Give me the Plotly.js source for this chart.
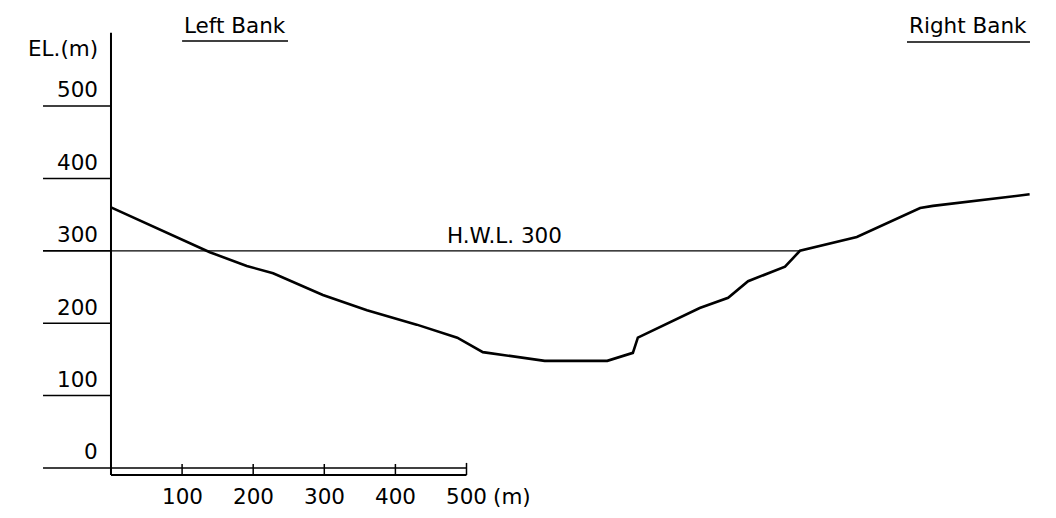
<!DOCTYPE html>
<html>
<head>
<meta charset="utf-8">
<script src="https://cdn.plot.ly/plotly-3.0.1.min.js"></script>
<style>
html,body{margin:0;padding:0;background:#fff;}
#chart{width:1056px;height:518px;}
</style>
</head>
<body>
<div id="chart"></div>
<script>
// Cross-section profile: distance (m) and elevation (m)
const distance  = [0, 93, 139, 191, 228, 298, 360, 430, 487, 523, 610, 698, 734, 741, 828, 868, 896, 948, 969, 1049, 1138, 1156, 1292];
const elevation = [360, 318, 298, 279, 269, 239, 218, 198, 180, 160, 148, 148, 159, 180, 221, 235, 258, 278, 300, 319, 359, 362, 378];

const hwl = 300;                       // high water level (m)
const hwlLabel = 'H.W.L. 300';
const yTicks = [0, 100, 200, 300, 400, 500];
const yTickLabels = ['0', '100', '200', '300', '400', '500'];
const xTicks = [100, 200, 300, 400, 500];
const xTickLabels = ['100', '200', '300', '400', '500'];
const yTitle = 'EL.(m)';
const xUnit = '(m)';
const leftBank = 'Left Bank';
const rightBank = 'Right Bank';

const FONT = {family: 'DejaVu Sans, Liberation Sans, Arial, sans-serif', size: 21.5, color: '#000'};

const shapes = [];
const annotations = [];
const line = (x0, y0, x1, y1, w) => shapes.push({type: 'line', xref: 'x', yref: 'y', x0, y0, x1, y1, line: {color: '#000', width: w}});

// vertical elevation axis
line(0, -9.7, 0, 601, 2);
// elevation tick lines
yTicks.forEach(v => line(-95.6, v, v === 0 ? 500 : 0, v, 1.5));
// distance scale bar
line(0, -9.7, 500, -9.7, 2);
xTicks.forEach(v => line(v, -9.7, v, v === 500 ? 7 : 5.5, 1.5));
// high water level
line(-95.6, hwl, 969, hwl, 1.3);
// bank underlines
line(100, 589.8, 249, 589.8, 1.5);
line(1119.5, 588.4, 1292.5, 588.4, 1.5);

yTicks.forEach((v, i) => annotations.push({x: -15.5, y: v, xref: 'x', yref: 'y', text: yTickLabels[i], showarrow: false, xanchor: 'right', yanchor: 'middle', yshift: 16, font: FONT}));
xTicks.forEach((v, i) => annotations.push({x: v, y: -40, xref: 'x', yref: 'y', text: xTickLabels[i], showarrow: false, xanchor: 'center', yanchor: 'middle', font: FONT}));
annotations.push({x: 534.5, y: -40, xref: 'x', yref: 'y', text: xUnit, showarrow: false, xanchor: 'left', yanchor: 'middle', font: FONT});
annotations.push({x: -15.5, y: 580, xref: 'x', yref: 'y', text: yTitle, showarrow: false, xanchor: 'right', yanchor: 'middle', font: FONT});
annotations.push({x: 554, y: hwl, xref: 'x', yref: 'y', text: hwlLabel, showarrow: false, xanchor: 'center', yanchor: 'middle', yshift: 15, font: FONT});
annotations.push({x: 174, y: 610.5, xref: 'x', yref: 'y', text: leftBank, showarrow: false, xanchor: 'center', yanchor: 'middle', font: FONT});
annotations.push({x: 1205.5, y: 610.5, xref: 'x', yref: 'y', text: rightBank, showarrow: false, xanchor: 'center', yanchor: 'middle', font: FONT});

const trace = {
  x: distance, y: elevation, type: 'scatter', mode: 'lines',
  line: {color: '#000', width: 2.6}, hoverinfo: 'skip', showlegend: false
};

const layout = {
  width: 1056, height: 518,
  margin: {l: 0, r: 0, t: 0, b: 0},
  paper_bgcolor: '#fff', plot_bgcolor: '#fff',
  xaxis: {range: [-156.1, 1329.1], visible: false, fixedrange: true},
  yaxis: {range: [-69.1, 646.4], visible: false, fixedrange: true},
  shapes, annotations, showlegend: false
};

Plotly.newPlot('chart', [trace], layout, {displayModeBar: false, staticPlot: true});
</script>
</body>
</html>
